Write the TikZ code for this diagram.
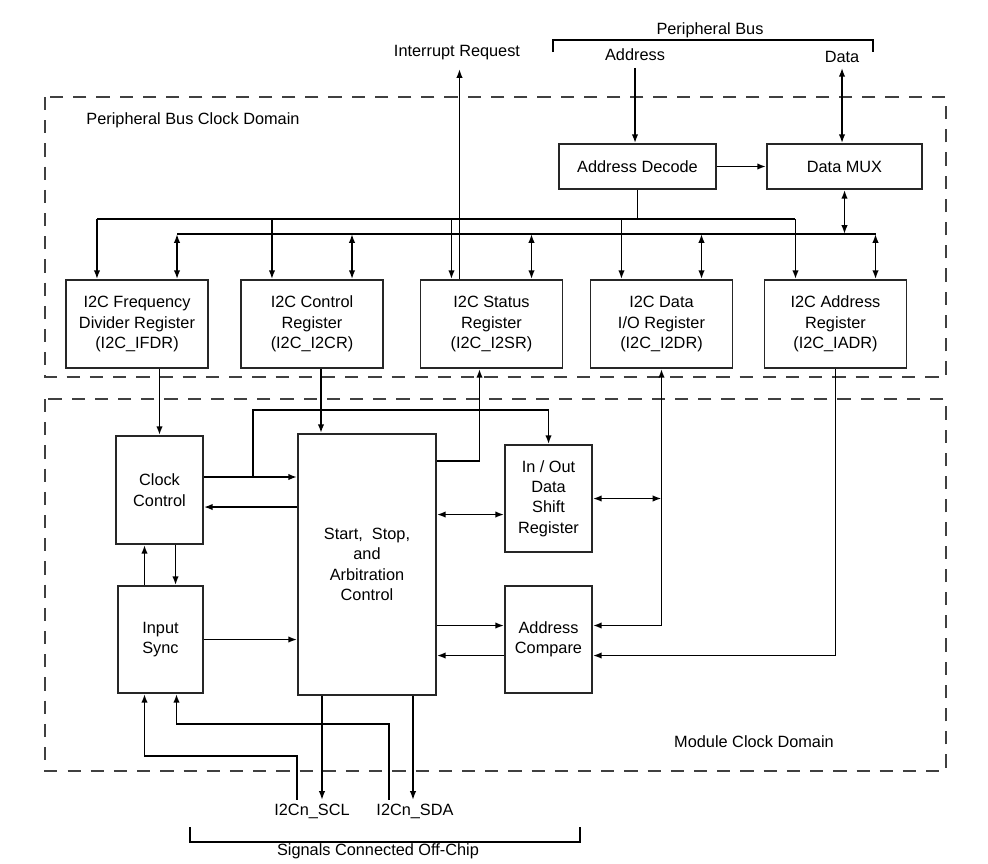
\documentclass[tikz,border=0pt]{standalone}
\usepackage{fontspec}
\setmainfont{Liberation Sans}
\usetikzlibrary{arrows.meta, calc, positioning}

\begin{document}
\begin{tikzpicture}[x=0.025cm, y=-0.025cm, line width=1.2pt,
        >={Latex[length=2.2mm, width=1.6mm]},
        font=\fontsize{11.6}{14.5}\selectfont,
        block/.style={draw=black!85, align=center, inner sep=1pt},
        reg/.style={block, minimum width=3.55cm, minimum height=2.2cm},
        unit/.style={block, minimum width=2.175cm, minimum height=2.675cm},
        signal/.style={inner sep=2pt, anchor=base},
        clockdomain/.style={draw=black!75, dash pattern=on 0.33cm off 0.25cm}]
    \useasboundingbox (0, 0) rectangle (988, 863);
    \draw[clockdomain] (45, 97) rectangle (946, 377);
    \draw[clockdomain] (45, 399) rectangle (946, 771);
    \node[anchor=base] at (193, 124.5) {Peripheral Bus Clock Domain};
    \node[anchor=base] at (754, 747.5) {Module Clock Domain};

    \node[signal] (pbus) at (710, 34.5) {Peripheral Bus};
    \draw (553, 52) -- (553, 40) -- (873, 40) -- (873, 52);
    \node[signal] (addr) at (635, 60) {Address};
    \node[signal] (data) at (842, 62) {Data};
    \node[signal] (irq) at (457, 56) {Interrupt Request};

    \node[block, minimum width=3.925cm, minimum height=1.125cm] (decode) at (637.5, 166.5) {Address Decode};
    \node[block, minimum width=3.875cm, minimum height=1.125cm] (mux) at (844.5, 166.5) {Data MUX};

    \node[reg] (ifdr) at (137, 324) {I2C Frequency\\Divider Register\\(I2C\_IFDR)};
    \node[reg] (i2cr) at (312, 324) {I2C Control\\Register\\(I2C\_I2CR)};
    \node[reg] (i2sr) at (491.5, 324) {I2C Status\\Register\\(I2C\_I2SR)};
    \node[reg] (i2dr) at (661.5, 324) {I2C Data\\I/O Register\\(I2C\_I2DR)};
    \node[reg] (iadr) at (835.5, 324) {I2C Address\\Register\\(I2C\_IADR)};

    \node[unit, minimum height=2.7cm] (clk) at (159.5, 490) {Clock\\Control};
    \node[unit, minimum width=2.125cm] (sync) at (160.5, 639.5) {Input\\Sync};
    \node[block, minimum width=3.45cm, minimum height=6.525cm] (ssa) at (367, 564.5) {Start,~ Stop,\\and\\Arbitration\\Control};
    \node[unit] (shift) at (548.5, 498.5) {In / Out\\Data\\Shift\\Register};
    \node[unit] (cmp) at (548.5, 639.5) {Address\\Compare};

    \node[signal] (scl) at (312, 815) {I2Cn\_SCL};
    \node[signal] (sda) at (415, 815) {I2Cn\_SDA};
    \node[signal] (offchip) at (378, 855) {Signals Connected Off-Chip};
    \draw (190, 827) -- (190, 842) -- (580, 842) -- (580, 827);

    \coordinate (abus) at (0, 219);
    \coordinate (dbus) at (0, 234);
    \draw[->, shorten <=0.1cm] (addr.south) -- (addr.south |- decode.north);
    \draw[<->, shorten <=0.05cm] (data.south) -- (data.south |- mux.north);
    \draw[->] (decode.east) -- (mux.west);
    \draw (decode.south) -- (decode.south |- abus);
    \draw[<->] (mux.south) -- (mux.south |- dbus);
    \foreach \r in {ifdr, i2cr, i2sr, i2dr, iadr} {
        \coordinate (\r-a) at ([xshift=-1cm]\r.north);
        \coordinate (\r-d) at ([xshift=1cm]\r.north);
        \draw[->] (\r-a |- abus) -- (\r-a);
        \draw[<->] (\r-d |- dbus) -- (\r-d);
    }
    \draw (ifdr-a |- abus) -- (iadr-a |- abus);
    \draw (ifdr-d |- dbus) -- (iadr-d |- dbus);
    \coordinate (irqa) at ([xshift=-0.8cm]i2sr.north);
    \draw[->, shorten >=0.15cm] (irqa) -- (irqa |- irq.south);

    \draw[->] (ifdr.south -| clk.north) -- (clk.north);
    \coordinate (c1) at ([xshift=0.225cm]i2cr.south);
    \draw[->] (c1) -- (c1 |- ssa.north);
    \coordinate (s1) at ([xshift=-0.3cm]i2sr.south);
    \draw[->] ([yshift=-0.7cm]ssa.north east) -| (s1);

    \coordinate (k1) at ([yshift=0.325cm]clk.east);
    \coordinate (k2) at ([xshift=1.225cm]k1);
    \coordinate (k3) at ([yshift=-0.425cm]clk.east);
    \draw[->] (k1) -- (k1 -| ssa.west);
    \draw[->] (k2) -- ++(0, -67) -| (shift.north);
    \draw[->] (k3 -| ssa.west) -- (k3);

    \coordinate (h1) at ([yshift=-0.4cm]shift.west);
    \draw[<->] (h1 -| ssa.east) -- (h1);
    \draw[<->] (shift.east) -- (shift.east -| i2dr.south);

    \coordinate (m1) at ([yshift=0.35cm]cmp.east);
    \coordinate (m2) at ([yshift=-0.4cm]cmp.east);
    \draw[<->] (i2dr.south) |- (m1);
    \draw[->] (iadr.south) |- (m2);
    \draw[->] (m1 -| ssa.east) -- (m1 -| cmp.west);
    \draw[->] (m2 -| cmp.west) -- (m2 -| ssa.east);

    \draw[->] (sync.east) -- (sync.east -| ssa.west);
    \coordinate (y1) at ([xshift=-0.4cm]sync.north);
    \coordinate (y2) at ([xshift=0.4cm]clk.south);
    \draw[->] (y1) -- (y1 |- clk.south);
    \draw[->] (y2) -- (y2 |- sync.north);

    \coordinate (o1) at ([xshift=-1.125cm]ssa.south);
    \coordinate (o2) at ([xshift=1.15cm]ssa.south);
    \draw[->] (o1) -- (o1 |- scl.north);
    \draw[->] (o2) -- (o2 |- sda.north);
    \coordinate (i1) at ([xshift=-0.375cm]scl.north);
    \coordinate (i2) at ([xshift=-0.65cm]sda.north);
    \draw[->] (i1) -- ++(0, -44) -| ([xshift=-0.4cm]sync.south);
    \draw[->] (i2) -- ++(0, -76) -| ([xshift=0.4cm]sync.south);
\end{tikzpicture}
\end{document}
